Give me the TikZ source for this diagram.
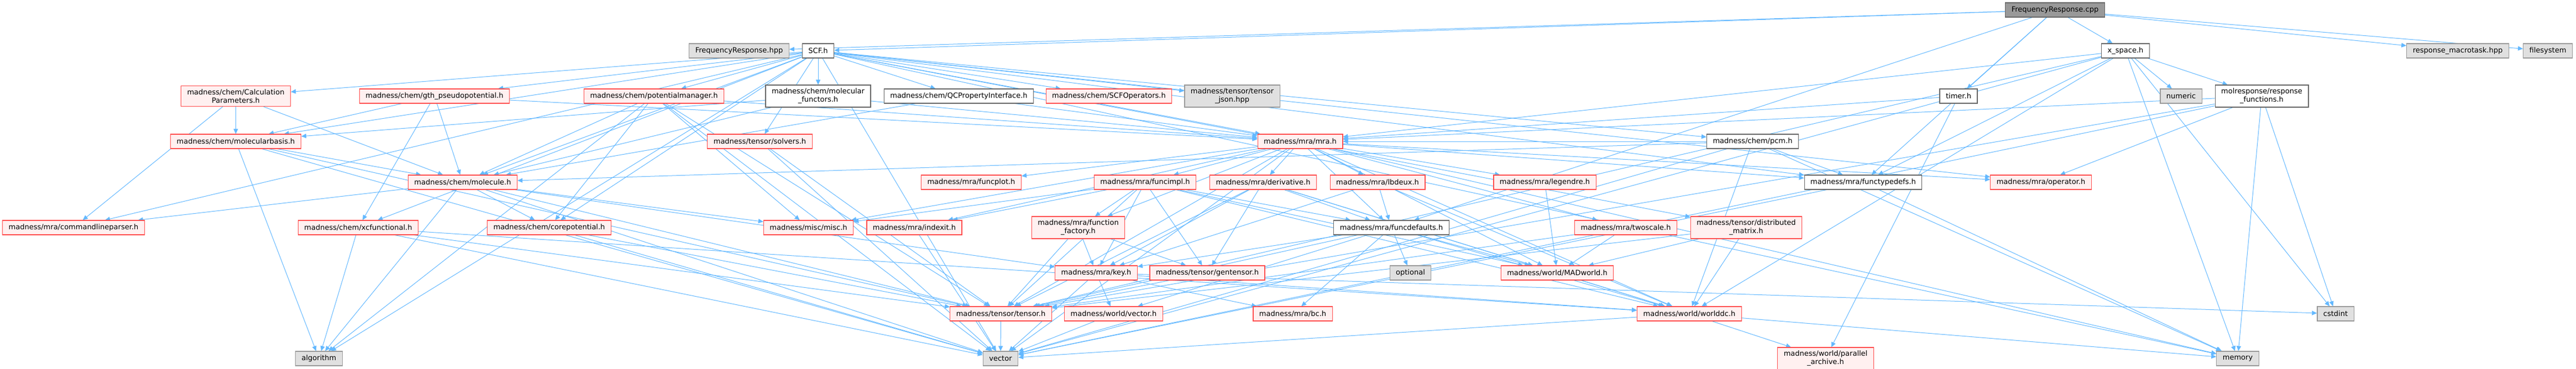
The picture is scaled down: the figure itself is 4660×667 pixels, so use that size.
\documentclass[tikz,border=0pt]{standalone}
\usepackage{fontspec}
\setmainfont{DejaVu Sans}
\usetikzlibrary{arrows.meta}
\pgfdeclarelayer{bg}
\pgfsetlayers{bg,main}
\definecolor{edgeblue}{HTML}{63B8FF}
\definecolor{truncred}{HTML}{FF4D4D}
\definecolor{truncfill}{HTML}{FFF0F0}
\definecolor{extfill}{HTML}{E0E0E0}
\definecolor{extline}{HTML}{999999}
\definecolor{docline}{HTML}{666666}
\tikzset{
  hdr/.style={rectangle,line width=1.2pt,inner xsep=11pt,inner ysep=6pt,
    minimum height=26pt,align=center,font=\fontsize{13}{15}\selectfont},
  trunc/.style={hdr,draw=truncred,fill=truncfill},
  ext/.style={hdr,draw=extline,fill=extfill},
  doc/.style={hdr,draw=docline,fill=white},
  root/.style={hdr,draw=docline,fill=extline},
  dep/.style={->,draw=edgeblue,line width=1pt}
}
\begin{document}
\begin{tikzpicture}[>={Triangle[length=9pt,width=8pt]},x=1pt,y=-1pt]
\useasboundingbox (0,0) rectangle (4660,667);
% rows 0 and 1
\node[root] (cpp) at (3717.5,18) {FrequencyResponse.cpp};
\node[ext] (hpp) at (1337,92) {FrequencyResponse.hpp};
\node[doc] (scf) at (1480,92) {SCF.h};
\node[doc] (xs) at (3845,92) {x\_space.h};
\node[ext] (rmt) at (4446,92) {response\_macrotask.hpp};
\node[ext] (fs) at (4609,92) {filesystem};
% row 2
\node[trunc] (calc) at (426.5,174) {madness/chem/Calculation\\Parameters.h};
\node[trunc] (gth) at (786,174) {madness/chem/gth\_pseudopotential.h};
\node[trunc] (pm) at (1183,174) {madness/chem/potentialmanager.h};
\node[doc] (mf) at (1480,174) {madness/chem/molecular\\\_functors.h};
\node[doc] (qcp) at (1734.5,174) {madness/chem/QCPropertyInterface.h};
\node[trunc] (scfo) at (2006,174) {madness/chem/SCFOperators.h};
\node[ext] (tjson) at (2229,174) {madness/tensor/tensor\\\_json.hpp};
\node[doc] (timer) at (3543,174) {timer.h};
\node[ext] (numeric) at (3945.5,174) {numeric};
\node[doc] (rf) at (4091.5,174) {molresponse/response\\\_functions.h};
% row 3
\node[trunc] (mb) at (426.5,256) {madness/chem/molecularbasis.h};
\node[trunc] (solv) at (1374.5,256) {madness/tensor/solvers.h};
\node[trunc] (mra) at (2352,256) {madness/mra/mra.h};
\node[doc] (pcm) at (3170.5,256) {madness/chem/pcm.h};
% row 4
\node[trunc] (mol) at (837,330) {madness/chem/molecule.h};
\node[trunc] (fplot) at (1757,330) {madness/mra/funcplot.h};
\node[trunc] (fimpl) at (2071.5,330) {madness/mra/funcimpl.h};
\node[trunc] (deriv) at (2285,330) {madness/mra/derivative.h};
\node[trunc] (lbdeux) at (2492,330) {madness/mra/lbdeux.h};
\node[trunc] (legendre) at (2794.5,330) {madness/mra/legendre.h};
\node[doc] (ftd) at (3370.5,330) {madness/mra/functypedefs.h};
\node[trunc] (op) at (3692,330) {madness/mra/operator.h};
% row 5
\node[trunc] (clp) at (133,412) {madness/mra/commandlineparser.h};
\node[trunc] (xc) at (648,412) {madness/chem/xcfunctional.h};
\node[trunc] (core) at (993.5,412) {madness/chem/corepotential.h};
\node[trunc] (misc) at (1462.5,412) {madness/misc/misc.h};
\node[trunc] (indexit) at (1654,412) {madness/mra/indexit.h};
\node[trunc] (ffac) at (1950.5,412) {madness/mra/function\\\_factory.h};
\node[doc] (fdef) at (2517,412) {madness/mra/funcdefaults.h};
\node[trunc] (twoscale) at (2941,412) {madness/mra/twoscale.h};
\node[trunc] (dm) at (3159,412) {madness/tensor/distributed\\\_matrix.h};
% row 6
\node[trunc] (key) at (1983,494) {madness/mra/key.h};
\node[trunc] (gent) at (2184,494) {madness/tensor/gentensor.h};
\node[ext] (optional) at (2551.5,494) {optional};
\node[trunc] (madw) at (2817,494) {madness/world/MADworld.h};
% row 7
\node[trunc] (tensor) at (1810.5,568) {madness/tensor/tensor.h};
\node[trunc] (wvec) at (2014.5,568) {madness/world/vector.h};
\node[trunc] (bc) at (2338.5,568) {madness/mra/bc.h};
\node[trunc] (worlddc) at (3056,568) {madness/world/worlddc.h};
\node[ext] (cstdint) at (4225,568) {cstdint};
% row 8
\node[ext] (algorithm) at (577,649) {algorithm};
\node[ext] (vec) at (1810,649) {vector};
\node[ext] (memory) at (4048,649) {memory};
\node[trunc] (pa) at (3302.5,649) {madness/world/parallel\\\_archive.h};
% include edges
\begin{pgfonlayer}{bg}
\foreach \s/\t in {cpp/hpp,cpp/scf,cpp/xs,cpp/timer,cpp/ftd,cpp/rmt,cpp/fs,cpp/fdef,
  xs/numeric,xs/rf,xs/mra,xs/ftd,xs/cstdint,xs/memory,xs/vec,xs/tensor,xs/worlddc,
  rf/mra,rf/op,rf/cstdint,rf/memory,rf/vec,rf/tensor,timer/mra,timer/pa,
  scf/calc,scf/gth,scf/pm,scf/mf,scf/qcp,scf/scfo,scf/tjson,scf/mra,scf/mb,scf/mol,
  scf/xc,scf/solv,scf/pcm,scf/clp,scf/core,scf/dm,scf/ftd,scf/op,scf/memory,scf/vec,
  scf/algorithm,calc/mb,calc/clp,calc/mol,gth/mb,gth/mol,gth/xc,gth/mra,
  pm/mol,pm/core,pm/misc,pm/mra,pm/algorithm,pm/vec,pm/tensor,mf/mol,mf/mb,mf/mra,
  qcp/mol,qcp/mra,mb/mol,mb/algorithm,mb/vec,mb/tensor,
  mol/clp,mol/core,mol/misc,mol/algorithm,mol/vec,mol/tensor,mol/key,
  xc/algorithm,xc/tensor,xc/vec,xc/worlddc,core/vec,core/tensor,solv/tensor,solv/vec,
  mra/fplot,mra/fimpl,mra/deriv,mra/lbdeux,mra/legendre,mra/indexit,mra/ffac,mra/fdef,
  mra/madw,mra/op,mra/ftd,mra/misc,mra/tensor,mra/vec,mra/worlddc,mra/memory,mra/twoscale,
  fimpl/ffac,fimpl/key,fimpl/gent,fimpl/tensor,fimpl/indexit,fimpl/fdef,fimpl/madw,
  fimpl/misc,fimpl/worlddc,deriv/key,deriv/gent,deriv/fdef,deriv/madw,deriv/tensor,
  deriv/worlddc,ffac/key,ffac/gent,ffac/tensor,lbdeux/fdef,lbdeux/worlddc,lbdeux/key,
  legendre/madw,ftd/memory,ftd/vec,pcm/ftd,pcm/mol,pcm/mra,pcm/vec,pcm/memory,pcm/worlddc,
  fdef/key,fdef/optional,fdef/madw,fdef/worlddc,fdef/bc,fdef/tensor,fdef/wvec,
  twoscale/madw,twoscale/tensor,dm/madw,dm/worlddc,dm/tensor,
  key/wvec,key/vec,key/bc,key/worlddc,key/cstdint,gent/tensor,madw/worlddc,
  tensor/vec,worlddc/pa,worlddc/memory,worlddc/vec,wvec/vec,indexit/vec}
  \draw[dep] (\s) -- (\t);
\end{pgfonlayer}
\end{tikzpicture}
\end{document}
